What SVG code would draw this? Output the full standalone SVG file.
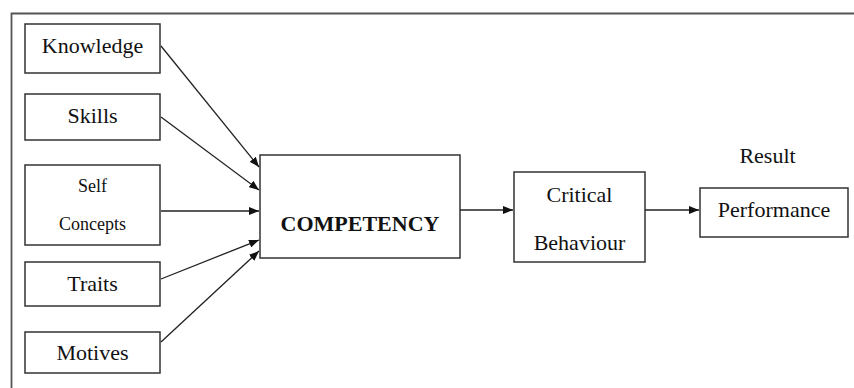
<svg xmlns="http://www.w3.org/2000/svg" width="854" height="388" viewBox="0 0 854 388">
<style>
.box{fill:#fff;stroke:#333;stroke-width:1.5}
.t{font-family:"Liberation Serif","Times New Roman",serif;font-size:22px;fill:#111;text-anchor:middle}
.s{font-size:18px}
.b{font-weight:bold}
.c{stroke:#222;stroke-width:1.3;fill:none;marker-end:url(#ah)}
</style>
<defs>
<marker id="ah" viewBox="0 0 10 8" refX="10" refY="4" markerWidth="10" markerHeight="8" markerUnits="userSpaceOnUse" orient="auto">
<path d="M0,0 L10,4 L0,8 Z" fill="#111"/>
</marker>
</defs>
<rect width="854" height="388" fill="#fff"/>
<path d="M11.5,388 V13.5 H854" fill="none" stroke="#555" stroke-width="1.8"/>
<g id="knowledge"><rect class="box" x="25" y="24" width="135" height="49"/><text class="t" x="92.5" y="53">Knowledge</text></g>
<g id="skills"><rect class="box" x="25" y="94" width="135" height="46"/><text class="t" x="92.5" y="123">Skills</text></g>
<g id="selfconcepts"><rect class="box" x="25" y="165" width="135" height="80"/><text class="t s" x="92.5" y="192">Self</text><text class="t s" x="92.5" y="230">Concepts</text></g>
<g id="traits"><rect class="box" x="25" y="262" width="135" height="44"/><text class="t" x="92.5" y="291">Traits</text></g>
<g id="motives"><rect class="box" x="25" y="332" width="135" height="41"/><text class="t" x="92.5" y="360">Motives</text></g>
<g id="competency"><rect class="box" x="260" y="155" width="200" height="103"/><text class="t b" x="360" y="231">COMPETENCY</text></g>
<g id="critical"><rect class="box" x="514" y="172" width="131" height="90"/><text class="t" x="579.5" y="202">Critical</text><text class="t" x="579.5" y="250">Behaviour</text></g>
<g id="performance"><rect class="box" x="700" y="188" width="148" height="49"/><text class="t" x="774" y="217">Performance</text></g>
<g id="result"><text class="t" x="767.5" y="163">Result</text></g>
<g id="connectors">
<line class="c" x1="161" y1="46" x2="259" y2="167"/>
<line class="c" x1="161" y1="117" x2="259" y2="190"/>
<line class="c" x1="161" y1="211" x2="259" y2="211"/>
<line class="c" x1="161" y1="279" x2="259" y2="240"/>
<line class="c" x1="161" y1="342" x2="259" y2="251"/>
<line class="c" x1="460" y1="210" x2="513" y2="210"/>
<line class="c" x1="645" y1="210" x2="699" y2="210"/>
</g>
</svg>
